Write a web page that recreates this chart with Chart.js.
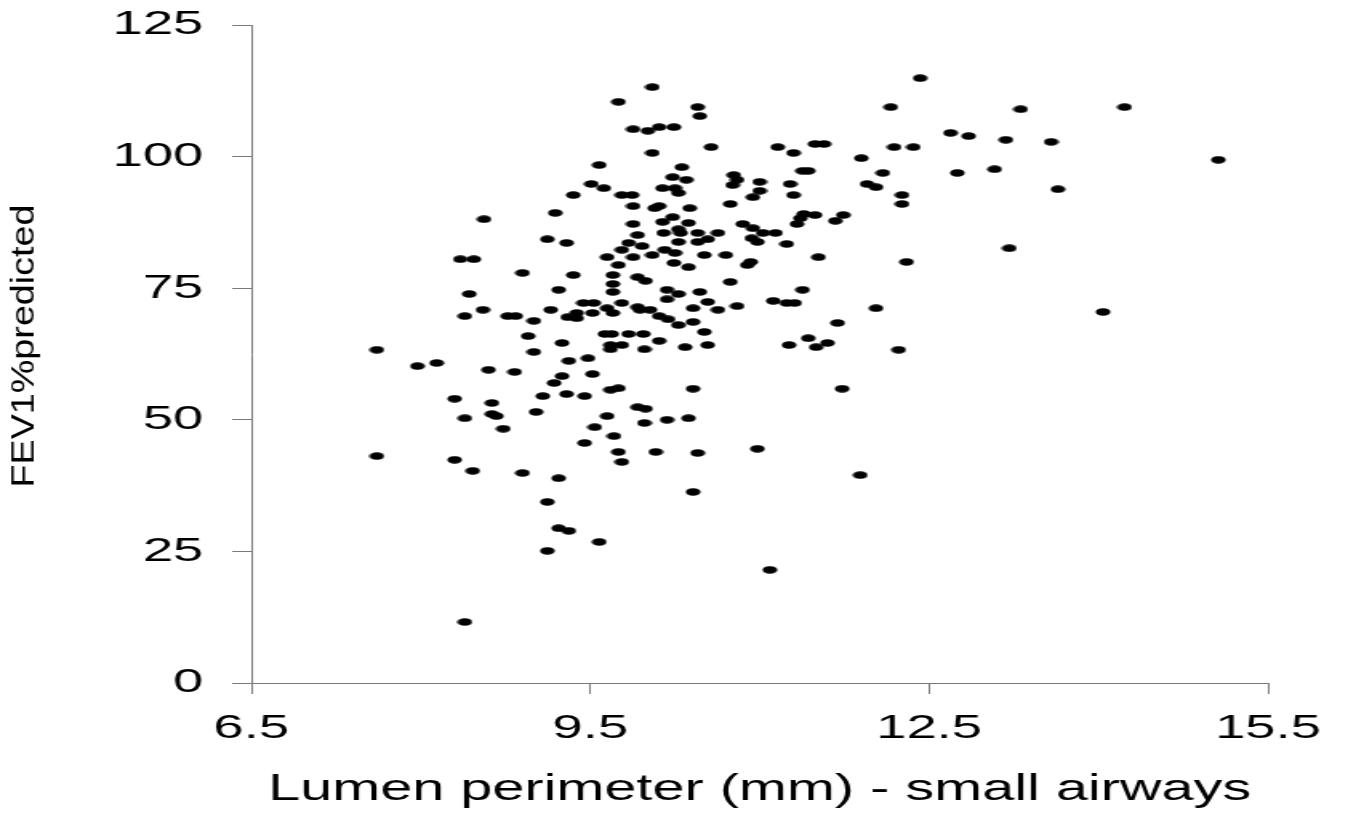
<!DOCTYPE html>
<html>
<head>
<meta charset="utf-8">
<title>FEV1 % predicted vs lumen perimeter</title>
<script src="https://cdn.jsdelivr.net/npm/chart.js@4.4.1/dist/chart.umd.min.js"></script>
<style>
  html, body { margin: 0; padding: 0; background: #fff; overflow: hidden; }
  /* the original figure is stretched horizontally, so draw narrow and stretch */
  #wrap { width: 842px; height: 814px; transform: scaleX(1.60095); transform-origin: 0 0; }
</style>
</head>
<body>
<div id="wrap"><canvas id="chart"></canvas></div>
<script>
/* ── data ── */
const lumenPerimeter = [
  12.42,12.16,13.31,14.23,12.69,12.85,13.18,13.58,12.19,12.36,
  11.90,15.06,12.09,12.75,13.08,11.95,12.03,12.26,12.26,13.64,
  11.74,13.21,12.30,12.03,14.04,12.23,11.69,11.89,11.73,10.05,
  9.75,10.45,10.47,9.88,10.01,10.11,10.24,10.57,11.16,11.30,
  11.49,11.57,10.05,10.31,10.23,10.35,10.14,10.25,10.28,9.78,
  9.87,9.88,10.07,10.11,10.38,10.77,10.80,10.76,11.00,11.00,
  10.94,10.74,11.27,11.30,11.38,11.43,9.88,10.14,10.23,10.37,
  10.15,10.28,10.30,10.45,10.63,9.92,10.28,10.45,10.54,9.84,
  9.96,9.78,9.65,9.75,9.88,10.05,10.16,10.25,10.24,10.37,
  10.51,10.70,10.85,10.94,11.03,11.14,10.93,10.98,11.24,10.92,
  11.52,11.39,11.49,11.36,11.33,11.67,10.89,9.70,9.92,9.99,
  9.70,10.74,9.70,10.18,10.28,10.18,10.47,10.54,11.38,11.12,
  11.24,11.31,10.80,9.78,9.65,9.70,9.92,9.94,10.03,10.41,
  10.63,10.11,10.19,10.28,10.41,9.63,9.69,9.84,9.97,10.11,
  10.51,9.68,9.78,9.68,9.98,10.34,10.54,11.26,11.43,11.50,
  11.60,9.68,9.75,10.41,9.92,9.99,9.65,9.98,10.18,10.37,
  9.71,9.75,10.08,10.45,10.98,9.78,10.41,11.09,9.58,9.51,
  9.62,9.35,9.19,8.56,9.12,9.29,8.35,8.47,8.90,9.35,
  9.22,8.43,8.55,8.39,8.77,8.84,9.00,9.15,9.30,9.38,
  9.38,9.44,9.53,9.52,8.95,9.25,7.61,9.00,7.97,8.14,
  8.60,8.83,9.31,9.48,9.25,9.18,9.52,9.08,9.29,9.45,
  8.30,8.63,8.63,8.67,8.39,9.02,8.73,9.54,9.45,7.61,
  8.30,8.46,8.90,9.22,9.12,9.22,9.31,9.58,9.12,8.39
];

const fev1Predicted = [
  114.9,109.4,109.0,109.4,104.5,103.9,103.2,102.8,101.8,101.8,
  99.7,99.4,96.9,96.9,97.6,94.8,94.2,92.7,91.0,93.8,
  88.9,82.6,80.0,71.2,70.5,63.3,68.4,39.5,55.9,113.2,
  110.4,109.4,107.7,105.2,104.9,105.6,105.6,101.8,101.8,100.7,
  102.4,102.4,100.7,98.0,96.1,95.6,94.0,94.0,93.1,92.7,
  92.7,90.6,90.2,90.6,90.2,96.5,95.6,94.6,95.2,93.5,
  92.3,91.0,94.8,92.7,97.3,97.3,87.2,87.6,88.5,87.4,
  85.5,86.2,85.5,85.5,85.5,85.1,83.8,83.8,84.3,83.6,
  83.0,82.3,80.9,79.4,80.9,81.3,82.3,81.7,79.8,79.0,
  81.3,81.3,87.2,86.4,85.5,85.5,84.5,83.8,83.4,80.0,
  80.9,89.1,88.9,88.3,87.2,87.8,79.4,77.5,77.1,76.4,
  75.8,76.2,74.3,74.7,73.9,72.9,74.3,72.4,74.7,72.6,
  72.2,72.2,71.6,72.2,71.2,70.3,71.4,70.9,70.9,71.2,
  70.9,69.7,69.1,68.0,68.6,66.3,66.3,66.3,66.3,65.0,
  66.7,64.2,64.2,63.4,63.4,63.8,64.2,64.2,65.5,63.8,
  64.6,55.7,56.0,55.9,52.4,52.1,50.7,49.4,50.0,50.3,
  46.9,43.9,43.9,43.7,44.5,42.0,36.3,21.5,98.4,94.8,
  94.0,92.7,89.3,88.1,84.3,83.6,80.5,80.5,77.9,77.5,
  74.7,73.9,70.9,69.7,69.7,69.7,68.8,70.9,69.5,70.3,
  69.3,72.2,72.2,70.3,65.9,64.6,63.3,62.9,60.2,60.8,
  59.5,59.1,61.2,61.7,58.3,57.0,58.7,54.5,54.9,54.5,
  54.0,53.2,51.1,50.7,50.3,51.5,48.3,48.6,45.6,43.1,
  42.4,40.3,39.9,38.9,34.4,29.4,28.9,26.8,25.1,11.6
];

const xTicks = [6.5, 9.5, 12.5, 15.5];
const yTicks = [0, 25, 50, 75, 100, 125];
const xTitle = 'Lumen perimeter (mm) - small airways';
const yTitle = 'FEV1%predicted';

/* ── chart ── */
const FONT = '"Liberation Sans", Arial, sans-serif';
const AXIS_GRAY = '#7a7a7a';
Chart.defaults.font.family = FONT;
Chart.defaults.color = '#000';

// small filled ellipse used as the marker
const dot = document.createElement('canvas');
dot.width = 10; dot.height = 8;
(function () {
  const c = dot.getContext('2d');
  c.fillStyle = '#000';
  c.beginPath();
  c.ellipse(5, 4, 4.6, 3.8, 0, 0, Math.PI * 2);
  c.fill();
})();

// y title is squeezed/elongated in the source, draw it by hand
const yTitlePlugin = {
  id: 'yTitle',
  afterDraw(chart) {
    const ctx = chart.ctx, area = chart.chartArea;
    ctx.save();
    ctx.translate(15, (area.top + area.bottom) / 2 - 8);
    ctx.rotate(-Math.PI / 2);
    ctx.font = '21px ' + FONT;
    const w = ctx.measureText(yTitle).width;
    ctx.scale(283 / w, 1);
    ctx.fillStyle = '#000';
    ctx.textAlign = 'center';
    ctx.textBaseline = 'middle';
    ctx.fillText(yTitle, 0, 0);
    ctx.restore();
  }
};

new Chart(document.getElementById('chart'), {
  type: 'scatter',
  data: {
    datasets: [{
      data: lumenPerimeter.map((x, i) => ({ x: x, y: fev1Predicted[i] })),
      pointStyle: dot,
      pointRadius: 5,
      pointHoverRadius: 5
    }]
  },
  options: {
    responsive: true,
    maintainAspectRatio: false,
    animation: false,
    layout: { padding: { top: 25, right: 50, left: 0, bottom: 0 } },
    plugins: { legend: { display: false }, tooltip: { enabled: false } },
    scales: {
      x: {
        type: 'linear',
        min: xTicks[0], max: xTicks[xTicks.length - 1],
        afterBuildTicks: s => { s.ticks = xTicks.map(v => ({ value: v })); },
        afterFit: s => { s.height = 131; s.paddingLeft = 0; s.paddingRight = 0; },
        ticks: { font: { size: 34 }, padding: 14, callback: v => v.toFixed(1), maxRotation: 0 },
        grid: { drawOnChartArea: false, tickLength: 11, color: AXIS_GRAY, lineWidth: 1 },
        border: { color: AXIS_GRAY, width: 1 },
        title: { display: true, text: xTitle, font: { size: 36 }, padding: { top: 0, bottom: 2 } }
      },
      y: {
        type: 'linear',
        min: yTicks[0], max: yTicks[yTicks.length - 1],
        afterBuildTicks: s => { s.ticks = yTicks.map(v => ({ value: v })); },
        afterFit: s => { s.width = 157; s.paddingTop = 0; s.paddingBottom = 0; },
        ticks: { font: { size: 34 }, padding: 18 },
        grid: { drawOnChartArea: false, tickLength: 12, color: AXIS_GRAY, lineWidth: 1 },
        border: { color: AXIS_GRAY, width: 1 }
      }
    }
  },
  plugins: [yTitlePlugin]
});
</script>
</body>
</html>
